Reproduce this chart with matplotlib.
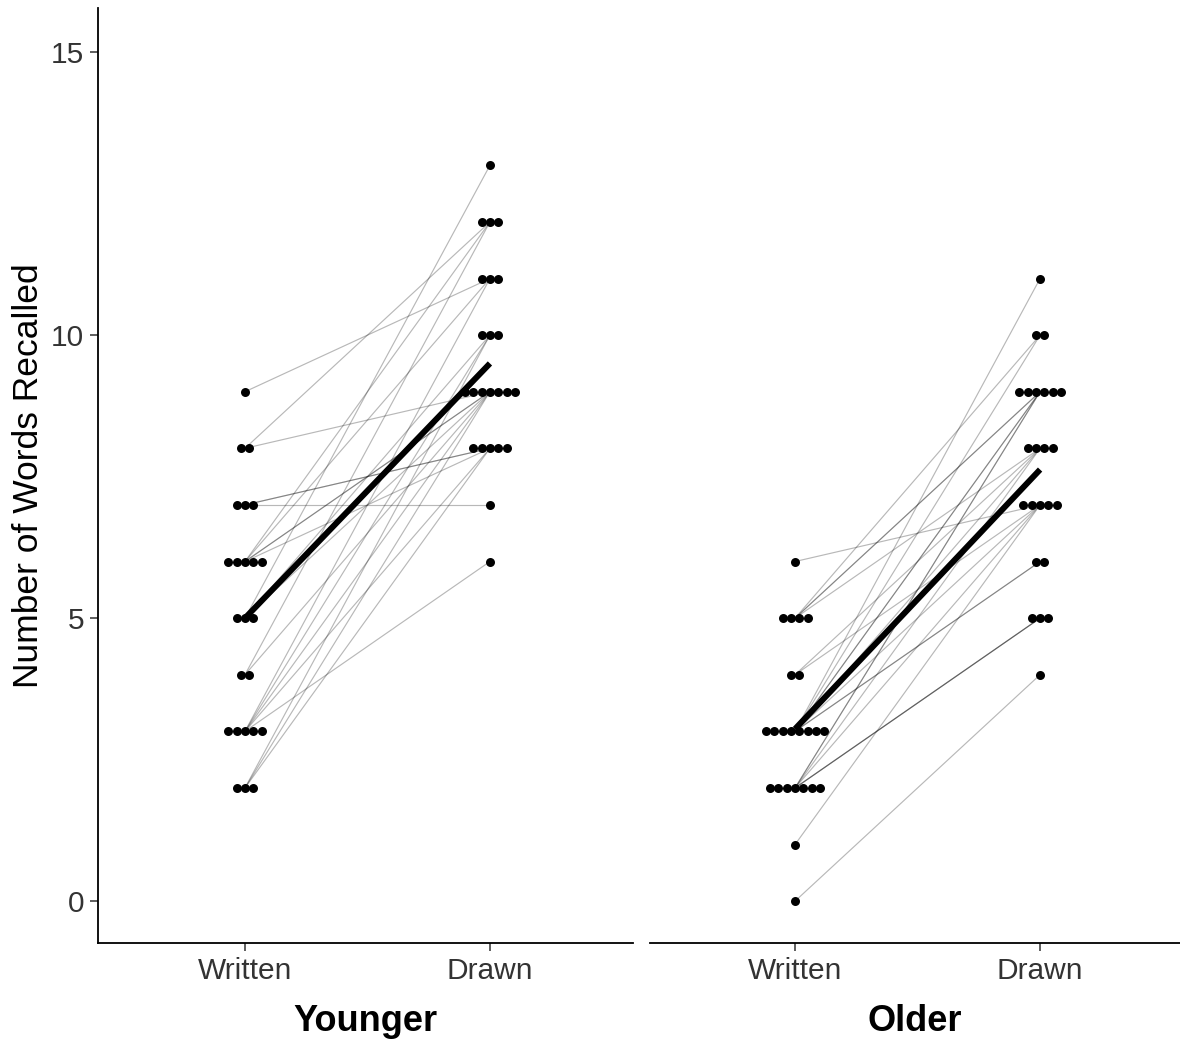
import numpy as np
import matplotlib.pyplot as plt

plt.rcParams['font.family'] = ['Liberation Sans', 'DejaVu Sans']

conditions = ['Written', 'Drawn']
groups = ['Younger', 'Older']

# paired scores per participant (written -> drawn)
younger_written = [9, 8, 8, 7, 7, 7, 6, 6, 6, 6, 6, 5, 5, 5, 4, 4, 3, 3, 3, 3, 3, 2, 2, 2]
younger_drawn = [11, 12, 9, 7, 8, 8, 8, 9, 12, 11, 9, 13, 10, 9, 12, 9, 6, 8, 10, 9, 11, 8, 10, 9]
older_written = [6, 5, 5, 5, 5, 4, 4, 3, 3, 3, 3, 3, 3, 3, 3, 2, 2, 2, 2, 2, 2, 2, 1, 0]
older_drawn = [7, 9, 9, 10, 8, 8, 7, 11, 10, 9, 9, 8, 7, 6, 6, 9, 9, 8, 7, 5, 5, 5, 7, 4]

data = {'Younger': (younger_written, younger_drawn),
        'Older': (older_written, older_drawn)}


def dot_offsets(values, step=0.034):
    values = np.asarray(values)
    offs = np.zeros(len(values))
    for v in np.unique(values):
        idx = np.where(values == v)[0]
        n = len(idx)
        offs[idx] = (np.arange(n) - (n - 1) / 2) * step
    return offs


fig = plt.figure(figsize=(11.8, 10.42), dpi=100)
ax1 = fig.add_axes([98 / 1180, 99 / 1042, 535 / 1180, 935 / 1042])
ax2 = fig.add_axes([650 / 1180, 99 / 1042, 530 / 1180, 935 / 1042], sharey=ax1)

for ax, grp, xlim in zip([ax1, ax2], groups, [(0.4, 2.584), (0.408, 2.571)]):
    w, d = data[grp]
    w = np.array(w)
    d = np.array(d)
    x = np.arange(1, len(conditions) + 1)
    for wi, di in zip(w, d):
        ax.plot(x, [wi, di], color='black', alpha=0.28, lw=0.85, zorder=1)
    ax.scatter(x[0] + dot_offsets(w), w, s=42, color='black', zorder=2, linewidths=0)
    ax.scatter(x[1] + dot_offsets(d), d, s=42, color='black', zorder=2, linewidths=0)
    ax.plot(x, [w.mean(), d.mean()], color='black', lw=4.3, solid_capstyle='butt', zorder=3)

    ax.set_xlim(*xlim)
    ax.set_xticks(x)
    ax.set_xticklabels(conditions)
    ax.set_xlabel(grp, fontsize=26, fontweight='bold', labelpad=14)
    for s in ['top', 'right']:
        ax.spines[s].set_visible(False)
    ax.spines['bottom'].set_linewidth(1.3)
    ax.spines['left'].set_linewidth(1.3)
    ax.tick_params(axis='both', labelsize=21.5, labelcolor='#333333', length=6, width=1.1,
                   color='#333333', pad=4)

ax1.set_ylim(-0.74, 15.78)
ax1.set_yticks([0, 5, 10, 15])
ax1.set_ylabel('Number of Words Recalled', fontsize=25.5, labelpad=4)
ax2.spines['left'].set_visible(False)
ax2.tick_params(axis='y', left=False, labelleft=False)

fig.savefig('out.png', dpi=100)
